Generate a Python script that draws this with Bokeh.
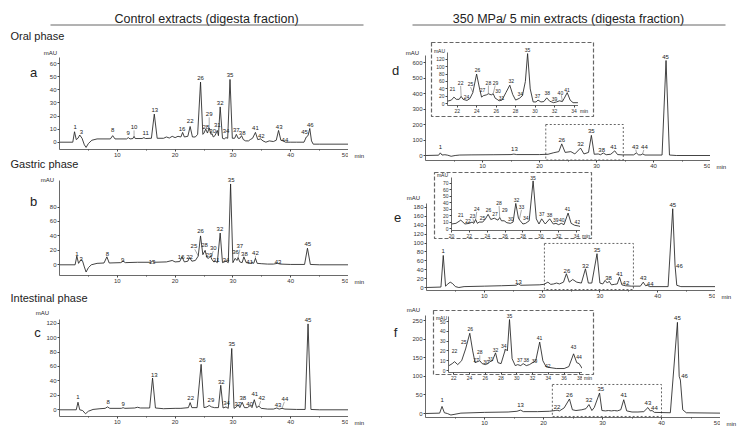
from bokeh.plotting import figure
from bokeh.models import Range1d, FixedTicker, GridBox, Column
from bokeh.core.properties import value
from bokeh.embed import file_html
from bokeh.resources import INLINE

FONT = "Liberation Sans"
INK = "#222222"

# ===================== DATA =====================
# ---- a: control, oral phase ----
a_time = [0, 2.3, 2.6, 2.9, 3.2, 3.5, 3.9, 4.3, 4.6, 5.0, 5.6, 6.5, 8.8, 9.2, 9.6, 11.6, 11.9, 12.2, 12.7, 12.9, 13.1,
          14.3, 14.6, 14.9, 15.9, 16.4, 16.9, 18.0, 18.5, 19.0, 19.5, 20.0, 20.5, 21.0, 21.3, 21.6, 22.2, 22.6, 23.0,
          23.5, 23.9, 24.4, 24.8, 25.0, 25.3, 25.6, 25.9, 26.2, 26.4, 26.6, 26.9, 27.3, 27.5, 27.8, 28.2, 28.5, 28.8,
          29.1, 29.5, 29.9, 30.3, 30.6, 30.9, 31.2, 31.5, 31.8, 32.2, 32.7, 33.0, 33.4, 33.9, 34.3, 34.8, 35.2, 35.7,
          36.3, 37.0, 37.5, 37.9, 38.3, 38.7, 39.1, 40.0, 41.0, 42.3, 42.7, 43.0, 43.3, 43.6, 43.9, 45.0, 50.0]
a_mau = [0, 0, 8, 2, 3, 5.5, 3, -2, -4, -1, 1.5, 2.5, 2.5, 5, 2.5, 2.5, 3.5, 2.5, 2.8, 4.5, 2.8,
         2.8, 3.5, 2.8, 3, 21.5, 3, 3, 4, 3.2, 4.5, 3.5, 4.5, 4, 7.5, 4, 4.5, 12, 4,
         4, 6, 46, 6, 7, 10, 7, 11, 6, 6.5, 4, 5, 9, 5, 27, 3, 2.5, 3.5,
         3, 48, 3, 3, 6, 3, 3, 5, 2, 1, 1, 2, 3, 7.5, 2, 2.5, 1, 0,
         1, 0.5, 1.5, 9, 1.5, 1, 0, 0, 0, 0, 4, 5, 10.5, 1, -1.5, -1.5, -1.5]
a_peak = ["1", "3", "8", "9", "10", "11", "13", "16", "22", "26", "28", "29", "30", "31", "32", "34", "35",
          "37", "38", "41", "42", "43", "44", "45", "46"]
a_peak_time = [2.7, 3.8, 9.2, 11.9, 12.9, 14.9, 16.5, 21.2, 22.6, 24.4, 25.3, 25.9, 26.5, 27.3, 27.8, 28.8, 29.5,
               30.6, 31.6, 33.9, 34.9, 38.0, 39.0, 42.4, 43.4]
a_peak_mau = [12, 7.7, 9.5, 7.2, 11.5, 7.2, 24.8, 10.2, 16, 49, 12, 21.7, 8.4, 13.3, 29.8, 8.4, 51.6,
              9.7, 6.9, 11, 4.4, 11.5, 2, 7.7, 13.3]
a_leader = {"t0": [25.9, 12.9], "v0": [19.0, 9.0], "t1": [25.9, 12.9], "v1": [11.5, 4.8]}

# ---- b: control, gastric phase ----
b_time = [0, 2.7, 3.0, 3.3, 3.7, 4.0, 4.3, 4.6, 5.0, 5.5, 6.5, 7.7, 8.2, 8.6, 10.6, 11.0, 11.4, 13.5, 15.8, 16.1,
          16.4, 18.5, 19.5, 20.0, 20.8, 21.2, 21.6, 22.2, 22.5, 22.9, 23.5, 24.0, 24.4, 24.8, 25.2, 25.5, 25.8,
          26.1, 26.4, 26.7, 27.0, 27.3, 27.8, 28.2, 28.8, 29.2, 29.6, 30.0, 30.4, 30.7, 30.9, 31.2, 31.6, 31.9,
          32.3, 33.0, 33.3, 33.6, 33.9, 34.2, 35.0, 36.0, 37.0, 37.7, 38.2, 40.0, 42.4, 42.9, 43.4, 45.0, 50.0]
b_mau = [0, 0, 12, 2, 7, 5, -3, -10, -4, 0, 2, 2.5, 11, 2.5, 3, 5, 3, 3.5, 3.5, 5,
         3.5, 4, 6, 4, 4.5, 11, 4, 5, 10, 5, 6, 12, 40, 14, 20, 10, 9,
         12, 7, 4, 5, 3, 44, 3, 5, 3, 112, 3, 9, 6, 10, 4, 3, 11,
         3, 2, 4, 2, 9, 2, 1.5, 1, 1, 2, 1, 0.5, 0.5, 23, 0.5, 0, 0]
b_peak = ["1", "3", "8", "9", "13", "16", "22", "25", "26", "28", "29", "30", "31", "32", "34", "35", "36",
          "37", "38", "41", "42", "43", "45"]
b_peak_time = [3.0, 3.75, 8.3, 10.95, 16.0, 21.05, 22.5, 23.25, 24.4, 25.1, 25.9, 26.6, 27.1, 27.75, 28.8, 29.7,
               30.45, 31.2, 32.0, 32.9, 33.9, 37.8, 42.96]
b_peak_mau = [14.3, 8.3, 15.2, 6.9, 4.5, 11.5, 11.5, 25.8, 46.6, 27, 12.9, 23, 6.9, 49.9, 6.9, 117.8, 18.4,
              25.4, 15.2, 3.5, 16.6, 3.5, 29]
b_leader = {"t0": [23.4, 26.6, 31.2, 33.9], "v0": [21.5, 19.0, 21.0, 12.5],
            "t1": [24.0, 26.2, 30.9, 33.9], "v1": [12.5, 11.0, 10.0, 8.5]}

# ---- c: control, intestinal phase ----
c_time = [0, 2.9, 3.2, 3.5, 4.0, 4.5, 5.0, 5.8, 7.0, 7.9, 8.3, 8.7, 10.7, 11.0, 11.3, 13.0, 13.5, 14.0, 15.6,
          16.1, 16.6, 18.0, 20.0, 21.0, 22.3, 22.6, 22.9, 23.8, 24.5, 25.0, 25.5, 25.9, 26.3, 26.8, 27.5, 27.9,
          28.3, 28.8, 29.2, 29.8, 30.2, 30.6, 30.9, 31.2, 31.6, 32.0, 32.5, 33.0, 33.3, 33.7, 34.1, 34.5, 34.9,
          36.0, 37.0, 37.6, 38.0, 38.5, 39.0, 41.0, 42.5, 43.0, 43.5, 45.0, 50.0]
c_mau = [0, 0, 10.5, 0, -1, -5.5, -2, 0.5, 1.5, 2, 4, 2, 2, 3, 2, 2.5, 3.5, 2.5, 2.5,
         44, 2.5, 1.5, 2, 2, 3, 10, 3, 3, 63, 3, 4, 6, 4, 3, 3, 34,
         2.5, 4, 2, 85, 2, 4, 7, 3, 10.5, 3, 3, 6, 3, 14, 3, 5, 2,
         1, 1, 2.5, 1, 2, 1, 0.5, 0.5, 119, 0.5, 0, 0]
c_peak = ["1", "8", "9", "13", "22", "26", "29", "32", "34", "35", "37", "38", "40", "41", "42", "43", "44", "45"]
c_peak_time = [3.2, 8.4, 11.0, 16.4, 22.7, 24.7, 26.2, 28.0, 28.9, 29.8, 30.85, 31.7, 32.9, 33.8, 35.0, 37.8,
               39.0, 43.0]
c_peak_mau = [18.4, 10.5, 8.3, 48.9, 16.1, 69.3, 13.9, 38.2, 9.7, 90.5, 8.3, 16.1, 8.3, 21.2, 16.1, 7.3, 15.2, 125]
c_leader = {"t0": [34.8, 38.9], "v0": [12.0, 11.0], "t1": [34.5, 38.5], "v1": [5.0, 2.0]}

# ---- d: 350 MPa, oral phase ----
d_time = [0, 2.3, 2.6, 2.9, 3.4, 3.9, 4.5, 5.2, 6, 8, 12, 15, 15.5, 16, 20, 21.5, 22.5, 23.4, 23.9, 24.5, 25.5,
          26.2, 27.2, 27.8, 28.6, 29.1, 29.6, 30.3, 30.7, 31.2, 31.7, 32.5, 33.2, 33.7, 34.5, 36.5, 37.0, 37.4,
          37.8, 38.1, 38.5, 41.5, 42.2, 42.8, 44, 50]
d_mau = [0, 2, 17, 3, 5, 2, -5, 0, 3, 4, 5, 6, 9, 6, 6, 8, 18, 25, 75, 20, 25,
         10, 48, 10, 20, 130, 8, 10, 5, 16, 5, 8, 30, 6, 4, 4, 16, 4,
         4, 10, 3, 3, 613, 3, 0, 0]
d_peak = ["1", "13", "26", "32", "35", "38", "41", "43", "44", "45"]
d_peak_time = [2.6, 15.6, 23.9, 27.2, 29.1, 30.9, 33.0, 36.8, 38.4, 42.1]
d_peak_mau = [53.5, 43, 101, 71, 161, 37, 54, 58, 54, 634]
d_zoom_box = [21.1, 34.7, -29, 200]   # left, right, bottom, top (min, mAU)
d_leader = {"t0": [36.9, 38.3], "v0": [38, 36], "t1": [37.0, 38.1], "v1": [18, 12]}

d_in_time = [21.0, 21.4, 21.66, 21.9, 22.2, 22.4, 22.6, 23.0, 23.3, 23.6, 23.99, 24.3, 24.5, 24.7, 25.0, 25.2,
             25.5, 25.7, 25.9, 26.1, 26.3, 26.6, 27.0, 27.4, 27.7, 28.0, 28.4, 28.7, 29.0, 29.23, 29.5, 29.8,
             30.1, 30.3, 30.6, 30.9, 31.2, 31.5, 31.9, 32.2, 32.5, 32.8, 33.0, 33.3, 33.6, 33.9, 34.4]
d_in_mau = [7, 10, 18, 12, 12, 20, 12, 9, 14, 30, 80, 40, 18, 22, 24, 27,
            24, 27, 15, 12, 8, 10, 30, 50, 25, 10, 15, 22, 60, 135, 40, 5,
            5, 10, 5, 6, 16, 7, 3, 5, 8, 6, 15, 30, 10, 3, 3]
d_in_peak = ["21", "22", "24", "25", "26", "27", "28", "29", "30", "31", "32", "34", "35", "37", "38", "39", "40", "41"]
d_in_peak_time = [21.52, 22.35, 22.96, 23.37, 24.09, 24.6, 25.2, 25.94, 26.2, 26.56, 27.55, 28.48, 29.23, 30.26,
                  31.25, 32.0, 32.6, 33.28]
d_in_peak_mau = [41, 56, 19, 53, 91, 38, 57, 57, 34, 16, 61, 26, 144, 21, 29, 14, 30, 38]
d_in_leader = {"t0": [22.35, 23.37, 25.2, 25.9, 32.7], "v0": [48, 45, 49, 49, 23],
               "t1": [22.4, 23.6, 25.2, 25.7, 32.8], "v1": [21, 31, 28, 28, 7]}

# ---- e: 350 MPa, gastric phase ----
e_time = [0, 2.5, 2.9, 3.3, 3.7, 4.1, 4.5, 5.0, 5.6, 6.5, 10, 13, 15.5, 15.9, 16.3, 19.5, 20.3, 21.0, 21.5, 22.0,
          22.5, 23.0, 23.7, 24.2, 24.7, 25.3, 26.0, 26.8, 27.5, 28.0, 28.6, 29.5, 30.0, 30.5, 30.9, 31.3, 31.6,
          32.0, 32.5, 33.0, 33.4, 33.8, 34.4, 35.5, 37.0, 37.5, 37.9, 38.2, 38.6, 41.8, 42.6, 43.0, 43.3, 44, 50]
e_mau = [0, 1, 72, 3, 8, 12, 9, 2, 0, 2, 3, 4, 5, 8, 5, 6, 7, 12, 7, 8,
         10, 8, 12, 31, 12, 18, 12, 10, 42, 10, 10, 76, 10, 8, 16, 10, 14,
         6, 7, 8, 23, 6, 4, 3, 3, 12, 4, 5, 2, 2, 177, 50, 5, 2, 2]
e_peak = ["1", "13", "26", "32", "35", "38", "41", "42", "43", "44", "45", "46"]
e_peak_time = [2.88, 15.9, 24.3, 27.5, 29.5, 31.5, 33.4, 34.5, 37.5, 38.7, 42.6, 43.75]
e_peak_mau = [83, 12, 36.7, 48, 85, 21.7, 30.7, 9.7, 21.7, 8.2, 186, 49.4]
e_zoom_box = [20.4, 35.8, -4.5, 99]
e_leader = {"t0": [], "v0": [], "t1": [], "v1": []}

e_in_time = [20, 20.5, 21.04, 21.5, 22.0, 22.3, 22.5, 22.7, 22.9, 23.1, 23.5, 23.8, 24.1, 24.4, 24.8, 25.2, 25.4,
             25.6, 25.9, 26.2, 26.6, 26.9, 27.2, 27.5, 27.7, 28.0, 28.3, 28.7, 29.14, 29.5, 29.8, 30.1, 30.5, 31.0,
             31.4, 31.7, 32.0, 32.3, 32.6, 33.06, 33.4, 33.8, 34.2, 34.45]
e_in_mau = [7, 8, 13, 7, 8, 10, 8, 14, 8, 10, 10, 15, 22, 14, 16, 13, 17,
            12, 12, 9, 8, 10, 39, 16, 12, 7, 8, 12, 74, 15, 7, 15, 7, 15,
            7, 8, 6, 8, 6, 24, 8, 5, 4, 3]
e_in_peak = ["21", "22", "23", "24", "25", "26", "27", "28", "29", "30", "32", "33", "34", "35", "37", "38", "39",
             "40", "41", "42"]
e_in_peak_time = [21.04, 21.86, 22.35, 22.83, 23.47, 24.14, 24.88, 25.33, 25.97, 26.64, 27.28, 27.84, 28.32, 29.14,
                  30.11, 30.97, 31.68, 32.35, 32.99, 34.1]
e_in_peak_mau = [20.7, 11.4, 19.2, 30, 15.6, 28.5, 23.3, 38.9, 28.5, 14.5, 45.1, 32.7, 15.6, 78.8, 21.8, 20.7,
                 12.9, 12.9, 31.1, 10.4]
e_in_leader = {"t0": [22.4, 22.83, 25.33, 27.84], "v0": [15.5, 26, 35, 29],
               "t1": [22.5, 22.7, 25.4, 27.6], "v1": [9, 14, 17, 14]}

# ---- f: 350 MPa, intestinal phase ----
f_time = [0, 2.4, 2.8, 3.2, 3.7, 4.3, 5.0, 6, 10, 14, 15.5, 16.1, 16.6, 19, 21, 22.0, 22.3, 22.7, 23.5, 24.4, 24.9,
          25.5, 26.5, 27.2, 27.7, 28.2, 28.6, 29.5, 29.9, 30.5, 31, 31.5, 32, 32.5, 33.1, 33.6, 34.1, 35, 36, 37.0,
          37.7, 38.1, 38.4, 38.8, 41.5, 42.7, 43.0, 43.2, 43.6, 44.2, 50]
f_mau = [0, 1, 19, 2, 0, -4, -2, 1, 3, 4, 6, 9, 5, 5, 6, 8, 9, 7, 15, 39, 10,
         8, 10, 13, 24, 8, 16, 55, 8, 7, 8, 7, 8, 7, 10, 37, 7, 4, 4, 5,
         16, 7, 8, 3, 2, 245, 100, 90, 10, 2, 1]
f_peak = ["1", "13", "22", "26", "32", "35", "41", "43", "44", "45", "46"]
f_peak_time = [2.83, 16.1, 22.3, 24.4, 27.7, 29.7, 33.6, 37.7, 38.8, 42.7, 43.9]
f_peak_mau = [36.8, 23.3, 18.8, 50.2, 36.8, 66.3, 48.4, 27.8, 15.2, 257, 102]
f_zoom_box = [21.5, 40.0, -8, 78]
f_leader = {"t0": [], "v0": [], "t1": [], "v1": []}

f_in_time = [21.4, 21.8, 22.1, 22.5, 23.0, 23.5, 24.03, 24.4, 24.7, 25.0, 25.3, 25.6, 26.0, 26.3, 26.6, 26.9, 27.3,
             27.6, 28.0, 28.56, 28.8, 29.07, 29.4, 29.8, 30.1, 30.5, 30.8, 31.2, 31.6, 32.0, 32.4, 32.9, 33.3, 33.7,
             34.2, 35, 36, 36.6, 37.2, 37.6, 37.9, 38.3]
f_in_mau = [5, 7, 9, 6, 10, 22, 38, 20, 8, 9, 10, 7, 6, 7, 9, 10, 18,
            8, 7, 22, 20, 52, 12, 5, 6, 5, 7, 5, 6, 8, 10, 29, 10, 4,
            3, 2, 2, 4, 17, 8, 7, 2]
f_in_peak = ["22", "25", "26", "27", "28", "30", "31", "32", "34", "35", "37", "38", "39", "41", "42", "43", "44"]
f_in_peak_time = [22.09, 23.27, 24.1, 24.84, 25.3, 26.1, 26.66, 27.29, 28.35, 29.07, 30.38, 31.2, 32.24, 32.88,
                  33.93, 37.2, 37.9]
f_in_peak_mau = [20, 28.6, 42.5, 10.9, 18.4, 8.2, 11.9, 21.1, 24.5, 56, 10.9, 10.9, 9.2, 33, 4.8, 24, 14]
f_in_leader = {"t0": [25.3, 28.35], "v0": [15.5, 21.5], "t1": [25.3, 28.56], "v1": [10.5, 20]}

# ---- ticks ----
main_xticks = [10, 20, 30, 40, 50]
main_xminor = [5, 15, 25, 35, 45]
a_yticks = [0, 10, 20, 30, 40, 50, 60]
b_yticks = [0, 20, 40, 60, 80]
c_yticks = [0, 20, 40, 60, 80, 100, 120]
d_yticks = [0, 100, 200, 300, 400, 500, 600]
e_yticks = [0, 20, 40, 60, 80, 100, 120, 140, 160, 180]
f_yticks = [0, 50, 100, 150, 200, 250]
d_in_xticks = [22, 24, 26, 28, 30, 32, 34]
d_in_yticks = [0, 20, 40, 60, 80, 100, 120]
e_in_xticks = [20, 22, 24, 26, 28, 30, 32, 34]
e_in_yticks = [0, 10, 20, 30, 40, 50, 60, 70]
f_in_xticks = [22, 24, 26, 28, 30, 32, 34, 36, 38]
f_in_yticks = [0, 10, 20, 30, 40, 50]

# ---- texts ----
titles = ["Control extracts (digesta fraction)", "350 MPa/ 5 min extracts (digesta fraction)"]
phases = ["Oral phase", "Gastric phase", "Intestinal phase"]
letters = ["a", "b", "c", "d", "e", "f"]

# ===================== LAYOUT (page pixel geometry) =====================
# l/r: frame left/right px, x0/x1: their times; b: frame bottom px; zero: px of 0 mAU;
# ppu: px per mAU; atop: top of y axis px; top: frame top px
G = {
    "a": dict(l=59, r=348, x0=0, x1=50, b=149, zero=141.7, ppu=1.307, atop=57, top=47),
    "b": dict(l=59, r=348, x0=0, x1=50, b=275, zero=264.3, ppu=0.7217, atop=180, top=172),
    "c": dict(l=59, r=348, x0=0, x1=50, b=416, zero=409.3, ppu=0.7217, atop=319, top=311),
    "d": dict(l=425, r=710, x0=0, x1=50, b=160, zero=155, ppu=0.155, atop=55, top=48),
    "e": dict(l=426, r=715, x0=0, x1=50, b=290, zero=287, ppu=0.445, atop=203, top=196),
    "f": dict(l=425, r=720, x0=0, x1=50, b=417, zero=413, ppu=0.372, atop=315, top=310),
    "di": dict(l=447, r=578, x0=21.0, x1=34.46, b=105, zero=103.3, ppu=0.372, atop=52, top=45),
    "ei": dict(l=451, r=580, x0=20.0, x1=34.45, b=230, zero=228, ppu=0.643, atop=177, top=171),
    "fi": dict(l=448, r=582, x0=21.33, x1=38.33, b=372, zero=370, ppu=0.98, atop=316, top=311),
}
MB_L, MB_B = 28, 11


def place(fig, top, left):
    # each figure sits alone in its own box, so the grid does not align frames across figures
    return Column(children=[fig], margin=(top, 0, 0, left))


def make_panel(g, t, v, labs, lt, lv, xticks, yticks, tick_fs, lab_fs, leader, minor=None, box=None):
    fw = g["r"] - g["l"]
    fh = g["b"] - g["top"]
    y0 = -(g["b"] - g["zero"]) / g["ppu"]
    y1 = (g["zero"] - g["top"]) / g["ppu"]
    ya = (g["zero"] - g["atop"]) / g["ppu"]
    p = figure(frame_width=fw, frame_height=fh, x_range=Range1d(g["x0"], g["x1"]), y_range=Range1d(y0, y1),
               title=None, toolbar_location=None, output_backend="svg",
               min_border_left=MB_L, min_border_right=0, min_border_top=0, min_border_bottom=MB_B,
               background_fill_color=None, border_fill_color=None, outline_line_color=None)
    p.xgrid.visible = False
    p.ygrid.visible = False
    p.xaxis.ticker = FixedTicker(ticks=xticks, minor_ticks=minor or [])
    p.yaxis.ticker = FixedTicker(ticks=yticks)
    p.xaxis.bounds = (g["x0"], g["x1"])
    p.yaxis.bounds = (y0, ya)
    for ax in (p.xaxis[0], p.yaxis[0]):
        ax.axis_line_color = "#444"
        ax.axis_line_width = 0.8
        ax.major_tick_line_color = "#444"
        ax.major_tick_out = 2
        ax.major_tick_in = 0
        ax.minor_tick_line_color = "#444"
        ax.minor_tick_out = 1
        ax.minor_tick_in = 0
        ax.major_label_text_font = FONT
        ax.major_label_text_font_size = tick_fs
        ax.major_label_text_color = "#333"
        ax.major_label_standoff = 1
    if box is not None:
        p.quad(left=[box[0]], right=[box[1]], bottom=[box[2]], top=[box[3]], fill_color=None,
               line_color="#555", line_dash="2 2", line_width=0.9)
    if leader["t0"]:
        p.segment(x0=leader["t0"], y0=leader["v0"], x1=leader["t1"], y1=leader["v1"],
                  line_color="#555", line_width=0.5)
    p.line(t, v, line_color=INK, line_width=0.85)
    p.text(x=lt, y=lv, text=labs, text_align="center", text_baseline="middle",
           text_font=value(FONT), text_font_size=lab_fs, text_color="#222")
    return place(p, g["top"], g["l"] - MB_L)


pa = make_panel(G["a"], a_time, a_mau, a_peak, a_peak_time, a_peak_mau, main_xticks, a_yticks, "6px", "6px",
                a_leader, main_xminor)
pb = make_panel(G["b"], b_time, b_mau, b_peak, b_peak_time, b_peak_mau, main_xticks, b_yticks, "6px", "6px",
                b_leader, main_xminor)
pc = make_panel(G["c"], c_time, c_mau, c_peak, c_peak_time, c_peak_mau, main_xticks, c_yticks, "6px", "6px",
                c_leader, main_xminor)
pd = make_panel(G["d"], d_time, d_mau, d_peak, d_peak_time, d_peak_mau, main_xticks, d_yticks, "6px", "6px",
                d_leader, main_xminor, d_zoom_box)
pe = make_panel(G["e"], e_time, e_mau, e_peak, e_peak_time, e_peak_mau, main_xticks, e_yticks, "6px", "6px",
                e_leader, main_xminor, e_zoom_box)
pf = make_panel(G["f"], f_time, f_mau, f_peak, f_peak_time, f_peak_mau, main_xticks, f_yticks, "6px", "6px",
                f_leader, main_xminor, f_zoom_box)
pdi = make_panel(G["di"], d_in_time, d_in_mau, d_in_peak, d_in_peak_time, d_in_peak_mau, d_in_xticks,
                 d_in_yticks, "5px", "5px", d_in_leader)
pei = make_panel(G["ei"], e_in_time, e_in_mau, e_in_peak, e_in_peak_time, e_in_peak_mau, e_in_xticks,
                 e_in_yticks, "5px", "5px", e_in_leader)
pfi = make_panel(G["fi"], f_in_time, f_in_mau, f_in_peak, f_in_peak_time, f_in_peak_mau, f_in_xticks,
                 f_in_yticks, "5px", "5px", f_in_leader)

# ===================== BACKGROUND: titles, labels, frames =====================
bg = figure(width=748, height=436, x_range=Range1d(0, 748), y_range=Range1d(436, 0),
            x_axis_type=None, y_axis_type=None, toolbar_location=None, output_backend="svg",
            min_border=0, outline_line_color=None, title=None,
            background_fill_color="white", border_fill_color="white")
bg.xgrid.visible = False
bg.ygrid.visible = False


def T(p, xs, ys, texts, size, align="center", color="#222"):
    p.text(x=xs, y=ys, text=texts, text_align=align, text_baseline="middle",
           text_font=value(FONT), text_font_size=size, text_color=color)


T(bg, [206, 568], [18, 18], titles, "12.5px")
bg.segment(x0=[50, 412], y0=[24.5, 24.5], x1=[363, 725], y1=[24.5, 24.5], line_color="#666", line_width=1)
T(bg, [10, 10, 10], [35, 163, 297], phases, "11px", align="left")
T(bg, [33, 33, 37, 395, 397, 395], [72, 201, 332, 70, 217, 332], letters, "13px")
T(bg, [50, 47, 42, 412, 413, 413], [52, 179, 312, 52, 197, 309], ["mAU"] * 6, "6px")
T(bg, [439, 442, 441], [50, 174, 317], ["mAU"] * 3, "5px")
mains = [G[k] for k in "abcdef"]
T(bg, [g["r"] + 6 for g in mains], [g["b"] + 6.5 for g in mains], ["min"] * 6, "6px", align="left")
insets = [G[k] for k in ("di", "ei", "fi")]
T(bg, [g["r"] + 1.5 for g in insets], [g["b"] + 5 for g in insets], ["min"] * 3, "5px", align="left")
bg.quad(left=[431, 434, 433], right=[593, 591, 593], top=[42, 172, 310], bottom=[116, 238, 374],
        fill_color=None, line_color="#666", line_dash="4 2", line_width=1.2)

root = GridBox(children=[(place(bg, 0, 0), 0, 0)] +
               [(p, 0, 0) for p in (pa, pb, pc, pd, pe, pf, pdi, pei, pfi)],
               spacing=0, styles={"overflow": "hidden"})
open("out.html", "w").write(file_html(root, INLINE))
